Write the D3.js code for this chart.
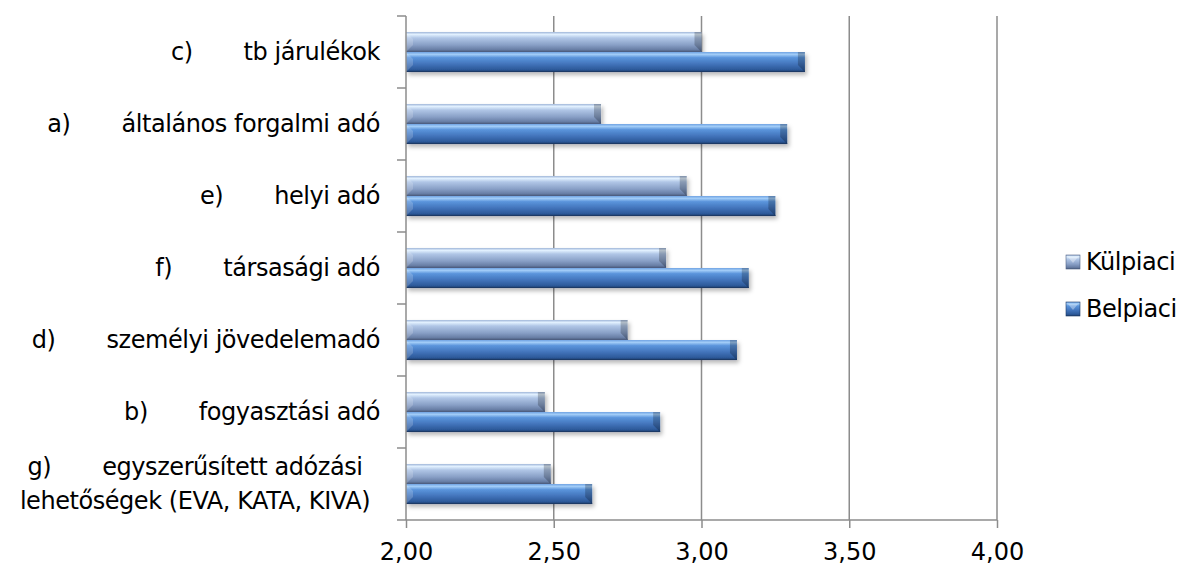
<!DOCTYPE html>
<html>
<head>
<meta charset="utf-8">
<script src="https://cdn.jsdelivr.net/npm/d3@7"></script>
<style>
  body { margin: 0; background: #fff; }
  text { font-family: "DejaVu Sans", Verdana, sans-serif; fill: #000; }
</style>
</head>
<body>
<svg id="chart" width="1179" height="568"></svg>
<script>
// categories top -> bottom, prefix letter kept separate (tab in original)
var prefixes = ["c)", "a)", "e)", "f)", "d)", "b)", "g)"];
var categories = ["tb járulékok", "általános forgalmi adó", "helyi adó", "társasági adó",
                  "személyi jövedelemadó", "fogyasztási adó", "egyszerűsített adózási|lehetőségek (EVA, KATA, KIVA)"];
var kulpiaci = [3.00, 2.66, 2.95, 2.88, 2.75, 2.47, 2.49];
var belpiaci = [3.35, 3.29, 3.25, 3.16, 3.12, 2.86, 2.63];
var seriesNames = ["Külpiaci", "Belpiaci"];
var xTicks = [2.0, 2.5, 3.0, 3.5, 4.0];

var svg = d3.select("#chart");
var pLeft = 406, pRight = 997, pTop = 16, pBottom = 520;
var fontSize = 24, tight = "-0.45px";

var x = d3.scaleLinear().domain([2, 4]).range([pLeft, pRight]);
var y0 = d3.scaleBand().domain(categories).range([pTop, pBottom]).paddingInner(0.444).paddingOuter(0.222);
var y1 = d3.scaleBand().domain(seriesNames).range([0, y0.bandwidth()]);

var rows = categories.map(function(c, i) {
  return {cat: c, prefix: prefixes[i], values: [kulpiaci[i], belpiaci[i]]};
});

// gradients
var defs = svg.append("defs");
function grad(id, stops) {
  var g = defs.append("linearGradient").attr("id", id).attr("x1", 0).attr("y1", 0).attr("x2", 0).attr("y2", 1);
  stops.forEach(function(s) { g.append("stop").attr("offset", s[0]).attr("stop-color", s[1]); });
}
grad("g-Belpiaci", [["0%", "#6fa2e2"], ["12%", "#a2cdf8"], ["28%", "#5b95dc"], ["60%", "#4274bb"], ["88%", "#2c5999"], ["100%", "#1d3a66"]]);
grad("g-Külpiaci", [["0%", "#9fb5d8"], ["12%", "#e2f1ff"], ["30%", "#b0c6e6"], ["65%", "#889fc6"], ["88%", "#687ea5"], ["100%", "#48597b"]]);
var colorEdge = {"Belpiaci": "#1d3a66", "Külpiaci": "#4f6184"};

var f = defs.append("filter").attr("id", "shadow").attr("x", "-5%").attr("y", "-30%").attr("width", "110%").attr("height", "180%");
f.append("feDropShadow").attr("dx", 2).attr("dy", 3).attr("stdDeviation", 2).attr("flood-color", "#000").attr("flood-opacity", 0.28);

// grid lines
svg.append("g").selectAll("line")
  .data(xTicks.slice(1)).enter().append("line")
  .attr("x1", function(d) { return x(d); }).attr("x2", function(d) { return x(d); })
  .attr("y1", pTop).attr("y2", pBottom)
  .attr("stroke", "#8c8c8c").attr("stroke-width", 1.5);

// bars
var groups = svg.append("g").selectAll("g")
  .data(rows).enter().append("g")
  .attr("transform", function(d) { return "translate(0," + y0(d.cat) + ")"; });

var bars = groups.selectAll("g.bar")
  .data(function(d) { return d.values.map(function(v, j) { return {name: seriesNames[j], value: v}; }); })
  .enter().append("g").attr("class", "bar");

bars.append("rect")
  .attr("x", x(2))
  .attr("y", function(d) { return y1(d.name); })
  .attr("width", function(d) { return x(d.value) - x(2); })
  .attr("height", y1.bandwidth())
  .attr("fill", function(d) { return "url(#g-" + d.name + ")"; })
  .attr("filter", "url(#shadow)");

// bevel at the ends
var bv = 7;
bars.append("polygon")
  .attr("points", function(d) {
    var x1 = x(d.value), yy = y1(d.name), h = y1.bandwidth();
    return [[x1 - bv, yy], [x1, yy], [x1, yy + h], [x1 - bv, yy + h - bv]].join(" ");
  })
  .attr("fill", "#000").attr("opacity", 0.22);
bars.append("polygon")
  .attr("points", function(d) {
    var x0 = x(2), yy = y1(d.name), h = y1.bandwidth();
    return [[x0, yy], [x0 + bv, yy + bv], [x0 + bv, yy + h - bv], [x0, yy + h]].join(" ");
  })
  .attr("fill", "#fff").attr("opacity", 0.18);
bars.append("line")
  .attr("x1", x(2)).attr("x2", function(d) { return x(d.value); })
  .attr("y1", function(d) { return y1(d.name) + y1.bandwidth() - 0.5; })
  .attr("y2", function(d) { return y1(d.name) + y1.bandwidth() - 0.5; })
  .attr("stroke", function(d) { return colorEdge[d.name]; }).attr("stroke-width", 1);

// x axis
var xAxis = svg.append("g")
  .attr("transform", "translate(0," + pBottom + ")")
  .call(d3.axisBottom(x).tickValues(xTicks).tickSizeInner(8).tickSizeOuter(0).tickPadding(15)
        .tickFormat(function(d) { return d3.format(".2f")(d).replace(".", ","); }));
xAxis.select(".domain").attr("stroke", "#8c8c8c").attr("stroke-width", 1.5)
  .attr("d", "M" + (pLeft - 9) + ",0H" + pRight);
xAxis.selectAll(".tick line").attr("stroke", "#8c8c8c").attr("stroke-width", 1.5);
xAxis.selectAll(".tick text").attr("font-size", fontSize).attr("font-family", "DejaVu Sans").attr("fill", "#000");

// y axis: line + ticks at band boundaries
var yAxis = svg.append("g");
yAxis.append("line").attr("x1", pLeft).attr("x2", pLeft).attr("y1", pTop).attr("y2", pBottom)
  .attr("stroke", "#8c8c8c").attr("stroke-width", 1.5);
var bounds = categories.map(function(c) { return y0(c) - y0.step() * y0.paddingOuter(); });
yAxis.selectAll("line.tk").data(bounds).enter().append("line").attr("class", "tk")
  .attr("x1", pLeft - 9).attr("x2", pLeft)
  .attr("y1", function(d) { return d; }).attr("y2", function(d) { return d; })
  .attr("stroke", "#8c8c8c").attr("stroke-width", 1.5);

// category labels
var gap = 51, labelRight = 380;
function lbl(txt) {
  return svg.append("text").attr("font-size", fontSize).attr("letter-spacing", tight)
    .attr("dy", "0.35em").text(txt);
}
rows.forEach(function(r) {
  var cy = y0(r.cat) + y0.bandwidth() / 2;
  var lines = r.cat.split("|");
  if (lines.length === 1) {
    var t = lbl(lines[0]).attr("x", labelRight).attr("y", cy).attr("text-anchor", "end");
    var w = t.node().getComputedTextLength();
    lbl(r.prefix).attr("x", labelRight - w - gap).attr("y", cy).attr("text-anchor", "end");
  } else {
    var cx = 195;
    var t1 = lbl(lines[0]).attr("y", cy - 17);
    var p1 = lbl(r.prefix).attr("y", cy - 17);
    var w1 = t1.node().getComputedTextLength(), wp = p1.node().getComputedTextLength();
    var total = wp + gap + w1;
    p1.attr("x", cx - total / 2);
    t1.attr("x", cx - total / 2 + wp + gap);
    lbl(lines[1]).attr("x", cx).attr("y", cy + 17).attr("text-anchor", "middle");
  }
});

// legend
var legendY = {"Külpiaci": 262, "Belpiaci": 309};
var lg = svg.append("g").selectAll("g").data(seriesNames).enter().append("g")
  .attr("transform", function(d) { return "translate(1066," + legendY[d] + ")"; });
lg.append("rect").attr("x", 0).attr("y", -7).attr("width", 14).attr("height", 14)
  .attr("fill", function(d) { return "url(#g-" + d + ")"; })
  .attr("stroke", function(d) { return colorEdge[d]; }).attr("stroke-width", 0.6);
lg.append("polygon").attr("points", "2,-5 12,-5 7,1").attr("fill", "#fff").attr("opacity", 0.35);
lg.append("text").attr("x", 20).attr("y", 0).attr("dy", "0.35em").attr("font-size", fontSize)
  .attr("letter-spacing", tight).text(function(d) { return d; });
</script>
</body>
</html>
